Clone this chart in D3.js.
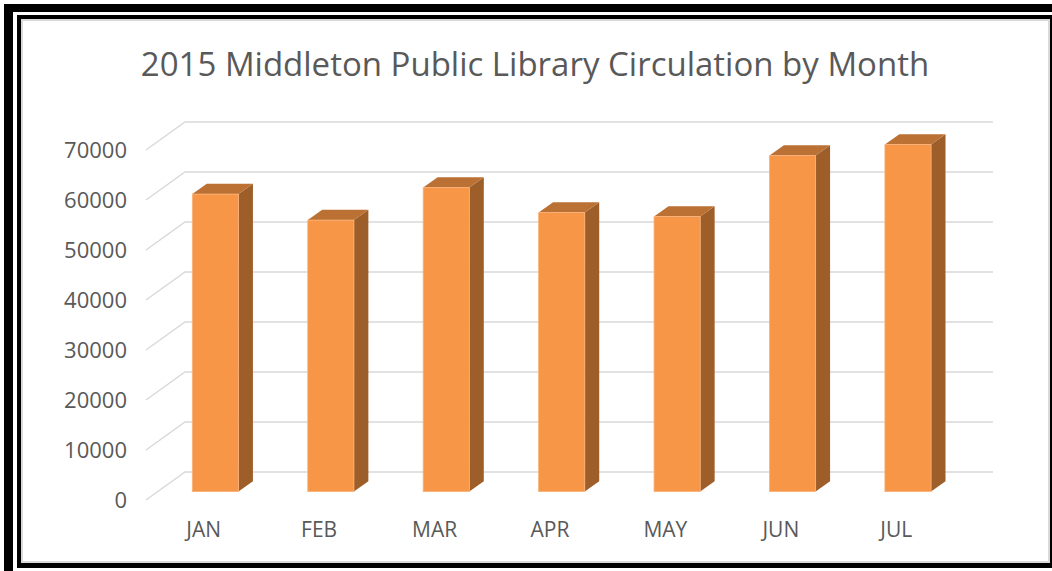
<!DOCTYPE html>
<html>
<head>
<meta charset="utf-8">
<script src="https://cdn.jsdelivr.net/npm/d3@7"></script>
<style>
body { margin: 0; background: #fff; }
text { font-family: "Open Sans", sans-serif; fill: #595959; }
</style>
</head>
<body>
<script>
var months = ["JAN", "FEB", "MAR", "APR", "MAY", "JUN", "JUL"];
var circulation = [59500, 54300, 60800, 55800, 55000, 67200, 69400];
var yTicks = [0, 10000, 20000, 30000, 40000, 50000, 60000, 70000];
var title = "2015 Middleton Public Library Circulation by Month";

var width = 1052;
var height = 571;

var svg = d3.select("body")
    .append("svg")
    .attr("width", width)
    .attr("height", height);

// frame (double black border like the screenshot)
svg.append("rect").attr("x", 4).attr("y", 4).attr("width", width - 4).attr("height", 8).attr("fill", "black");
svg.append("rect").attr("x", 4).attr("y", 4).attr("width", 9).attr("height", height - 4).attr("fill", "black");
svg.append("rect").attr("x", 17).attr("y", 15).attr("width", width - 17).attr("height", 4).attr("fill", "black");
svg.append("rect").attr("x", 17).attr("y", 15).attr("width", 4).attr("height", 553).attr("fill", "black");
svg.append("rect").attr("x", 17).attr("y", 563).attr("width", width - 17).attr("height", 5).attr("fill", "black");
svg.append("rect").attr("x", 1050).attr("y", 15).attr("width", 2).attr("height", 553).attr("fill", "black");
svg.append("rect")
    .attr("x", 22).attr("y", 20)
    .attr("width", 1027).attr("height", 542)
    .attr("fill", "white")
    .attr("stroke", "#d9d9d9")
    .attr("stroke-width", 2);

svg.append("text")
    .attr("x", 535)
    .attr("y", 64)
    .attr("dy", "0.35em")
    .attr("text-anchor", "middle")
    .style("font-size", "33px")
    .text(title);

// front plane scales, depth is an oblique offset
var x = d3.scaleBand()
    .domain(months)
    .range([146, 954])
    .paddingInner(0.6)
    .paddingOuter(0.3);

var y = d3.scaleLinear()
    .domain([0, 70000])
    .range([500, 150]);

var depthX = 39;
var depthY = -28;
var d1 = 0.3;   // bar front depth
var d2 = 0.67;  // bar back depth

// gridlines: diagonal on the floor side then along the back wall
var grid = svg.append("g");
yTicks.forEach(function (t) {
    grid.append("polyline")
        .attr("points", [
            [x.range()[0], y(t)],
            [x.range()[0] + depthX, y(t) + depthY],
            [x.range()[1] + depthX, y(t) + depthY]
        ].join(" "))
        .attr("fill", "none")
        .attr("stroke", "#d9d9d9")
        .attr("stroke-width", 1.5);
});

svg.append("g")
    .selectAll("text")
    .data(yTicks)
    .enter()
    .append("text")
    .attr("x", 127)
    .attr("y", function (d) { return y(d); })
    .attr("dy", "0.35em")
    .attr("text-anchor", "end")
    .style("font-size", "22px")
    .text(function (d) { return d; });

svg.append("g")
    .selectAll("text")
    .data(months)
    .enter()
    .append("text")
    .attr("x", function (d) { return x(d) + x.bandwidth() / 2; })
    .attr("y", 530)
    .attr("dy", "0.35em")
    .attr("text-anchor", "middle")
    .style("font-size", "21px")
    .text(function (d) { return d; });

var bw = x.bandwidth();
var fx = depthX * d1, fy = depthY * d1;
var sx = depthX * (d2 - d1), sy = depthY * (d2 - d1);

var bars = svg.append("g")
    .selectAll("g")
    .data(months)
    .enter()
    .append("g");

bars.append("polygon")
    .attr("points", function (d, i) {
        var x1 = x(d) + fx + bw, top = y(circulation[i]) + fy, base = y(0) + fy;
        return [[x1, top], [x1 + sx, top + sy], [x1 + sx, base + sy], [x1, base]].join(" ");
    })
    .attr("fill", "#9e5e2a");

bars.append("polygon")
    .attr("points", function (d, i) {
        var x0 = x(d) + fx, top = y(circulation[i]) + fy;
        return [[x0, top], [x0 + sx, top + sy], [x0 + bw + sx, top + sy], [x0 + bw, top]].join(" ");
    })
    .attr("fill", "#bb7133");

bars.append("rect")
    .attr("x", function (d) { return x(d) + fx; })
    .attr("y", function (d, i) { return y(circulation[i]) + fy; })
    .attr("width", bw)
    .attr("height", function (d, i) { return y(0) - y(circulation[i]); })
    .attr("fill", "#f79646")
    .attr("stroke", "#f9b27a")
    .attr("stroke-width", 0.8);
</script>
</body>
</html>
